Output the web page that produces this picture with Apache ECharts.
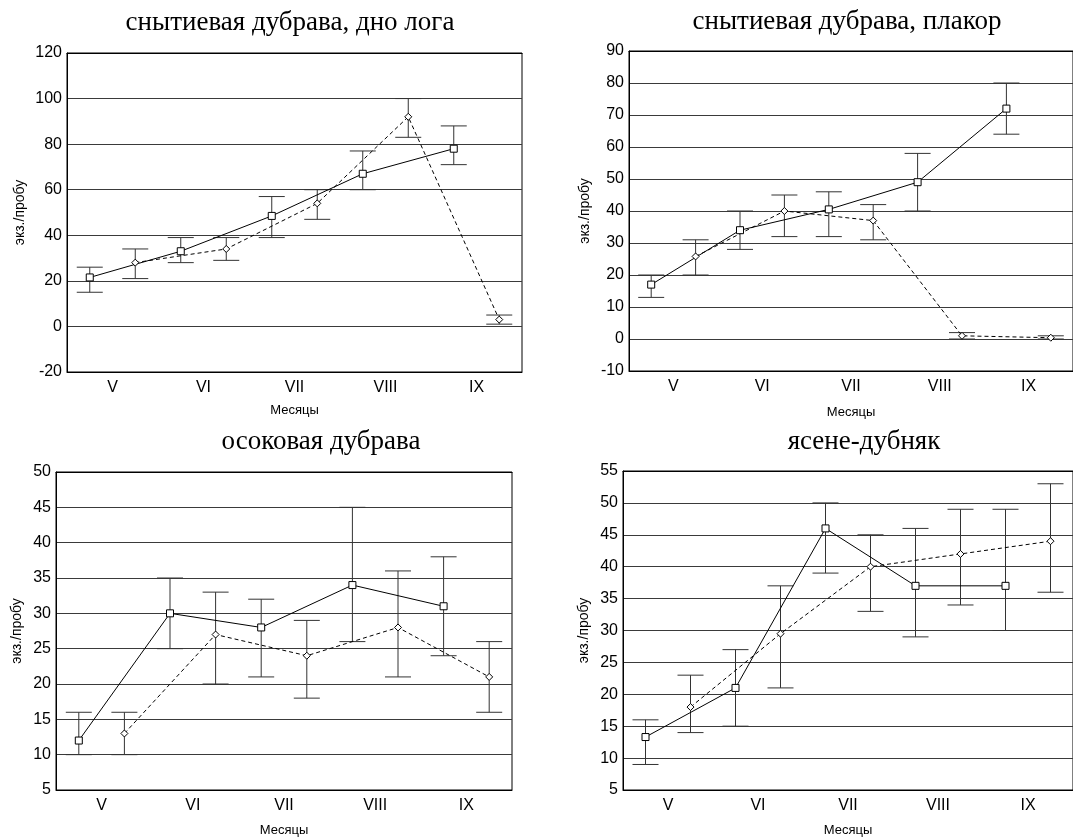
<!DOCTYPE html>
<html>
<head>
<meta charset="utf-8">
<script src="https://cdn.jsdelivr.net/npm/echarts@6/dist/echarts.min.js"></script>
<style>
html, body { margin: 0; padding: 0; background: #fff; }
#chart { width: 1073px; height: 838px; }
</style>
</head>
<body>
<div id="chart"></div>
<script>
// месяцы (общая ось X)
var months = ['V', 'VI', 'VII', 'VIII', 'IX'];

// панель 1: снытиевая дубрава, дно лога
var p1Solid = [21.5, 33, 48.5, 67, 78];
var p1SolidLow = [15, 28, 39, 60, 71];
var p1SolidHigh = [26, 39, 57, 77, 88];
var p1Dash = [28, 34, 54, 92, 3];
var p1DashLow = [21, 29, 47, 83, 1];
var p1DashHigh = [34, 39, 60, 100, 5];

// панель 2: снытиевая дубрава, плакор
var p2Solid = [17, 34, 40.5, 49, 72];
var p2SolidLow = [13, 28, 32, 40, 64];
var p2SolidHigh = [20, 40, 46, 58, 80];
var p2Dash = [25.8, 40, 37, 1, 0.4];
var p2DashLow = [20, 32, 31, 0, 0];
var p2DashHigh = [31, 45, 42, 2, 1];

// панель 3: осоковая дубрава
var p3Solid = [12, 30, 28, 34, 31];
var p3SolidLow = [10, 25, 21, 26, 24];
var p3SolidHigh = [16, 35, 32, 45, 38];
var p3Dash = [13, 27, 24, 28, 21];
var p3DashLow = [10, 20, 18, 21, 16];
var p3DashHigh = [16, 33, 29, 36, 26];

// панель 4: ясене-дубняк
var p4Solid = [13.3, 21, 46, 37, 37];
var p4SolidLow = [9, 15, 39, 29, 30];
var p4SolidHigh = [16, 27, 50, 46, 49];
var p4Dash = [18, 29.5, 40, 42, 44];
var p4DashLow = [14, 21, 33, 34, 36];
var p4DashHigh = [23, 37, 45, 49, 53];

var panels = [
  { title: 'снытиевая дубрава, дно лога', tx: 290, ty: 23,
    grid: { left: 67, top: 53, width: 455, height: 319 },
    yMin: -20, yMax: 120, yStep: 20, yGap: 40, xGap: 32,
    solid: p1Solid, solidLow: p1SolidLow, solidHigh: p1SolidHigh,
    dash: p1Dash, dashLow: p1DashLow, dashHigh: p1DashHigh },
  { title: 'снытиевая дубрава, плакор', tx: 847, ty: 22,
    grid: { left: 629, top: 51, width: 452, height: 320 },
    yMin: -10, yMax: 90, yStep: 10, yGap: 37, xGap: 35,
    solid: p2Solid, solidLow: p2SolidLow, solidHigh: p2SolidHigh,
    dash: p2Dash, dashLow: p2DashLow, dashHigh: p2DashHigh },
  { title: 'осоковая дубрава', tx: 321, ty: 442,
    grid: { left: 56, top: 472, width: 456, height: 320 },
    yMin: 5, yMax: 50, yStep: 5, yGap: 32, xGap: 34,
    solid: p3Solid, solidLow: p3SolidLow, solidHigh: p3SolidHigh,
    dash: p3Dash, dashLow: p3DashLow, dashHigh: p3DashHigh },
  { title: 'ясене-дубняк', tx: 864, ty: 442,
    grid: { left: 623, top: 471, width: 456, height: 321 },
    yMin: 5, yMax: 55, yStep: 5, yGap: 32, xGap: 34,
    solid: p4Solid, solidLow: p4SolidLow, solidHigh: p4SolidHigh,
    dash: p4Dash, dashLow: p4DashLow, dashHigh: p4DashHigh }
];

var sansFont = 'Liberation Sans, Arial, sans-serif';
var serifFont = 'Liberation Serif, Times New Roman, serif';

// усы ошибок: вертикаль + две перекладины
function renderBar(params, api) {
  var x = api.value(0);
  var lo = api.coord([x, api.value(1)]);
  var hi = api.coord([x, api.value(2)]);
  var w = 13;
  var st = { stroke: '#333', lineWidth: 1 };
  return {
    type: 'group',
    children: [
      { type: 'line', shape: { x1: lo[0], y1: lo[1], x2: hi[0], y2: hi[1] }, style: st },
      { type: 'line', shape: { x1: lo[0] - w, y1: lo[1], x2: lo[0] + w, y2: lo[1] }, style: st },
      { type: 'line', shape: { x1: hi[0] - w, y1: hi[1], x2: hi[0] + w, y2: hi[1] }, style: st }
    ]
  };
}

function pts(vals, shift) {
  return vals.map(function (v, i) { return [i + shift, v]; });
}
function bars(low, high, shift) {
  return low.map(function (v, i) { return [i + shift, v, high[i]]; });
}

var grids = [], xAxes = [], yAxes = [], series = [], graphics = [];

panels.forEach(function (p, k) {
  grids.push({
    left: p.grid.left, top: p.grid.top, width: p.grid.width, height: p.grid.height,
    show: true, borderColor: '#000', borderWidth: 1, backgroundColor: 'transparent'
  });
  // подписи месяцев снизу
  xAxes.push({
    type: 'category', gridIndex: k, data: months, position: 'bottom',
    name: 'Месяцы', nameLocation: 'middle', nameGap: p.xGap,
    nameTextStyle: { fontFamily: sansFont, fontSize: 13, color: '#000' },
    axisLine: { onZero: false, lineStyle: { color: '#000', width: 1 } },
    axisTick: { inside: true, alignWithLabel: true, length: 4, lineStyle: { color: '#000' } },
    axisLabel: { fontFamily: sansFont, fontSize: 16, color: '#000', margin: 8 },
    splitLine: { show: false }
  });
  // верхние засечки
  xAxes.push({
    type: 'category', gridIndex: k, data: months, position: 'top',
    axisLine: { onZero: false, lineStyle: { color: '#000', width: 1 } },
    axisTick: { inside: true, alignWithLabel: true, length: 4, lineStyle: { color: '#000' } },
    axisLabel: { show: false },
    splitLine: { show: false }
  });
  // скрытая числовая ось для смещённых точек
  xAxes.push({
    type: 'value', gridIndex: k, min: -0.5, max: 4.5, show: false,
    axisLine: { onZero: false }
  });

  yAxes.push({
    type: 'value', gridIndex: k, min: p.yMin, max: p.yMax, interval: p.yStep,
    name: 'экз./пробу', nameLocation: 'middle', nameGap: p.yGap,
    nameTextStyle: { fontFamily: sansFont, fontSize: 14, color: '#000' },
    axisLine: { show: true, onZero: false, lineStyle: { color: '#000', width: 1 } },
    axisTick: { show: false },
    axisLabel: { fontFamily: sansFont, fontSize: 16, color: '#000', margin: 5 },
    splitLine: { show: true, lineStyle: { color: '#3a3a3a', width: 1 } }
  });

  var xi = k * 3 + 2;
  series.push({
    type: 'custom', xAxisIndex: xi, yAxisIndex: k, z: 2,
    renderItem: renderBar, encode: { x: 0, y: [1, 2] },
    data: bars(p.solidLow, p.solidHigh, -0.25)
  });
  series.push({
    type: 'custom', xAxisIndex: xi, yAxisIndex: k, z: 2,
    renderItem: renderBar, encode: { x: 0, y: [1, 2] },
    data: bars(p.dashLow, p.dashHigh, 0.25)
  });
  series.push({
    type: 'line', xAxisIndex: xi, yAxisIndex: k, z: 3,
    data: pts(p.solid, -0.25),
    symbol: 'rect', symbolSize: 7, showAllSymbol: true,
    lineStyle: { color: '#000', width: 1 },
    itemStyle: { color: '#fff', borderColor: '#000', borderWidth: 1 }
  });
  series.push({
    type: 'line', xAxisIndex: xi, yAxisIndex: k, z: 3,
    data: pts(p.dash, 0.25),
    symbol: 'diamond', symbolSize: 7, showAllSymbol: true,
    lineStyle: { color: '#000', width: 1, type: [4, 3] },
    itemStyle: { color: '#fff', borderColor: '#000', borderWidth: 1 }
  });

  graphics.push({
    type: 'text', x: p.tx, y: p.ty,
    style: {
      text: p.title, fill: '#000', font: '27px ' + serifFont,
      textAlign: 'center', textVerticalAlign: 'middle'
    }
  });
});

var chart = echarts.init(document.getElementById('chart'));
chart.setOption({
  backgroundColor: '#fff',
  animation: false,
  grid: grids,
  xAxis: xAxes,
  yAxis: yAxes,
  series: series,
  graphic: graphics
});
</script>
</body>
</html>
